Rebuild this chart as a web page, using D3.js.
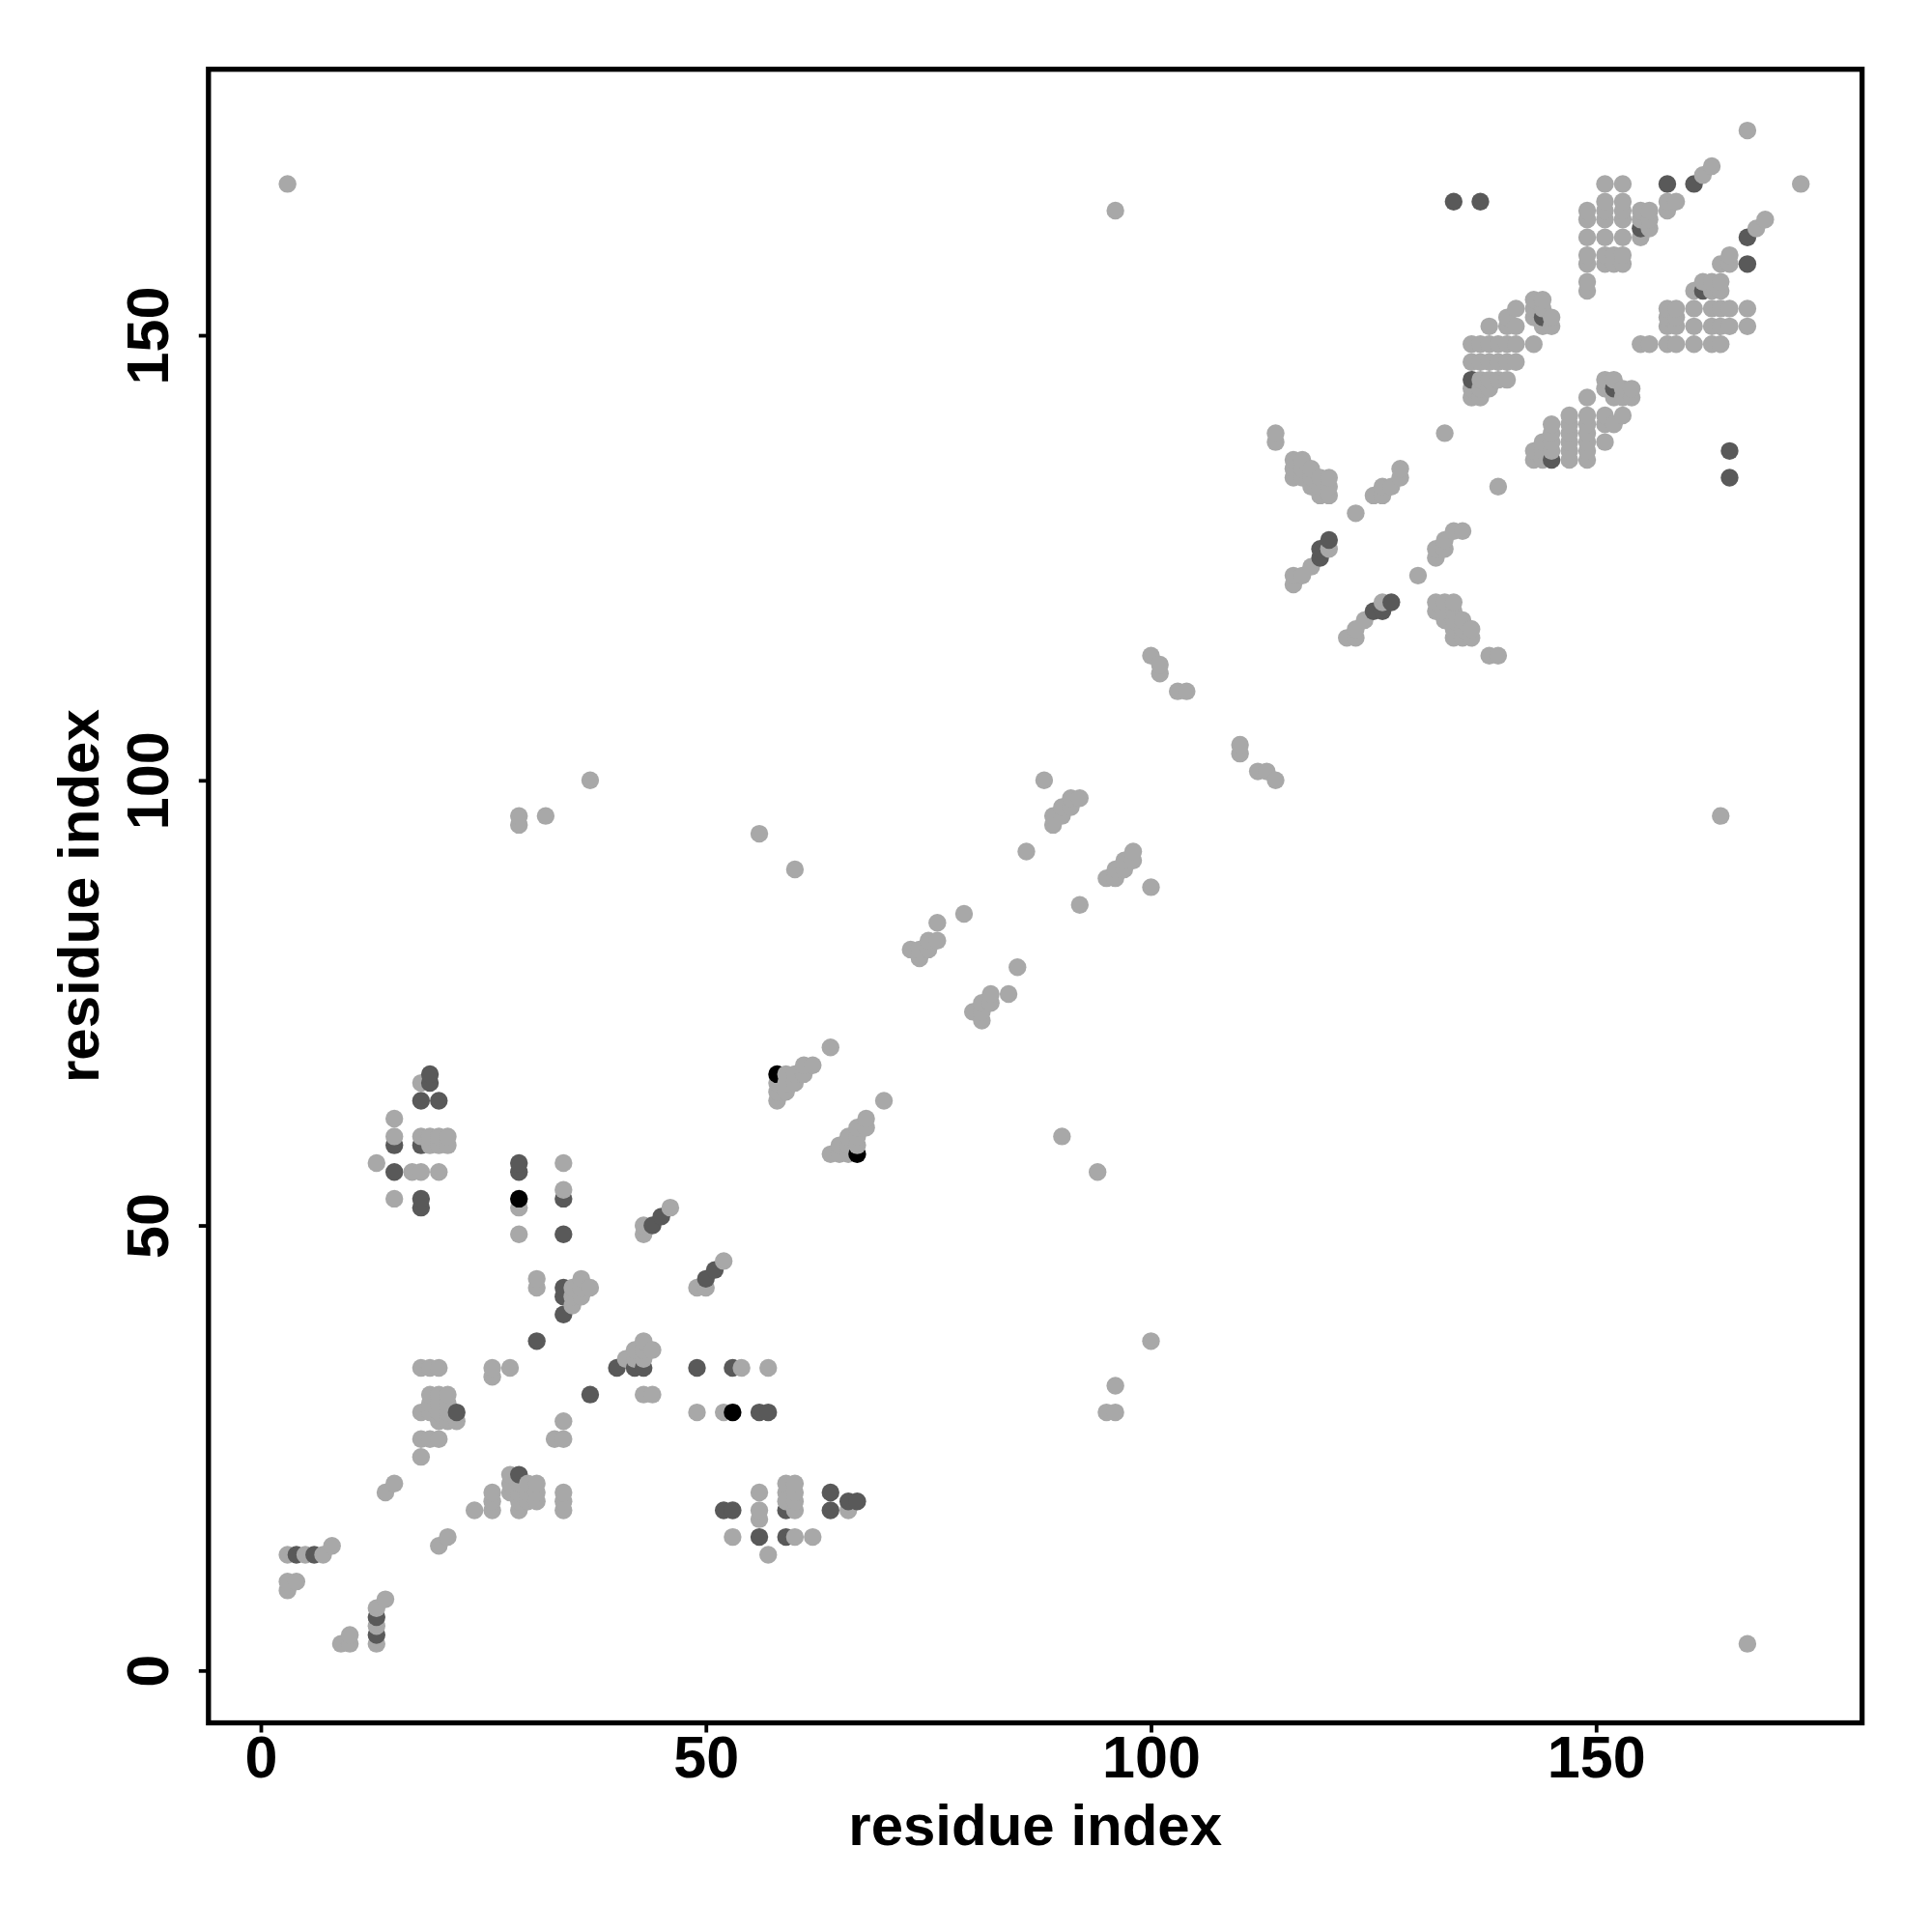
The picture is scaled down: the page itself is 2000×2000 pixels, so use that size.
<!DOCTYPE html>
<html>
<head>
<meta charset="utf-8">
<script src="https://cdn.jsdelivr.net/npm/d3@7"></script>
<style>
  html, body { margin: 0; padding: 0; background: #ffffff; }
  svg { display: block; }
  text { font-family: "Liberation Sans", Arial, Helvetica, sans-serif; font-weight: bold; }
</style>
</head>
<body>
<script>
// ---- data: contacts (i < j); each one is drawn at (i,j) and (j,i) ----
const lightPairs = [
  [3,9],[3,10],[4,10],[3,13],[5,13],[7,13],[8,14],
  [14,20],[15,21],
  [18,24],[18,26],[19,26],[20,26],[20,28],[21,28],[22,28],[18,29],[19,29],[20,29],[21,29],
  [19,30],[20,30],[21,30],[19,31],[20,31],[21,31],
  [18,34],[19,34],[20,34],[26,33],[26,34],[28,34],
  [18,66],[15,62],[15,60],[18,60],[19,60],[20,60],[21,60],[19,59],[20,59],[21,59],
  [13,57],[17,56],[18,56],[20,56],[15,53],
  [29,52],[29,49],[34,57],[34,54],
  [31,43],[31,44],[35,41],[35,42],[35,43],[36,42],[36,43],[36,44],[37,43],
  [43,49],[43,50],[46,52],
  [58,64],[58,65],[58,66],[59,65],[59,66],[59,67],[60,66],[60,67],[61,67],[61,68],[62,68],[64,70],
  [37,100],[29,95],[29,96],[32,96],[56,94],[60,90],[3,167],[96,164],
  [101,112],[103,110],[104,110],[101,113],[100,114],[88,100],
  [89,95],[89,96],[90,96],[90,97],[91,97],[91,98],[92,98],
  [86,92],[79,85],[76,84],[76,82],[75,82],[75,81],[74,81],[74,80],[73,81],
  [114,138],[114,139],
  [116,134],[116,135],[116,136],[117,134],[117,135],[117,136],[118,133],[118,134],[118,135],
  [119,132],[119,133],[119,134],[120,132],[120,133],[120,134],
  [123,130],[125,132],[126,132],[126,133],[127,133],[128,134],[128,135],
  [120,126],[118,124],[117,123],[116,123],[116,122],
  [133,139],
  [136,143],[137,143],[136,144],[137,144],[138,144],[137,145],[138,145],[139,145],[140,145],
  [136,147],[137,147],[138,147],[139,147],[140,147],[141,147],
  [136,149],[137,149],[138,149],[139,149],[140,149],[141,149],[143,149],
  [138,151],[140,151],[141,151],[140,152],[141,153],
  [143,152],[143,153],[143,154],[144,151],[144,153],[144,154],[145,151],[145,152],
  [149,155],[149,156],[149,158],[149,159],[149,161],[149,163],[149,164],
  [151,158],[151,159],[151,161],[151,163],[151,164],[151,165],[151,167],
  [152,158],[152,159],
  [153,158],[153,159],[153,161],[153,163],[153,164],[153,165],[153,167],
  [155,161],[155,163],[155,164],[156,162],[156,163],[156,164],
  [158,164],[158,165],[159,165],[162,168],[163,169],[167,173]
];
const darkPairs = [
  [4,13],[6,13],[22,29],
  [19,67],[19,66],[18,64],[20,64],[15,59],[18,59],[15,56],[18,53],[18,52],
  [29,56],[29,57],[34,53],[34,49],
  [34,40],[34,42],[34,43],[31,37],
  [44,50],[45,51],
  [119,125],[119,126],[120,127],
  [134,165],[137,165],
  [136,145],[144,152],[155,162],[158,167],[161,167]
];
const blackPairs = [[29,53],[58,67]];

const levelColors = { light: "#a8a8a8", dark: "#595959", black: "#000000" };
const xTicks = [0, 50, 100, 150];
const yTicks = [0, 50, 100, 150];
const xTitle = "residue index";
const yTitle = "residue index";
const dataRange = [1, 173];

(function () {
  // ---- build mirrored point table ----
  const points = [];
  function addPairs(pairs, level) {
    pairs.forEach(([i, j]) => {
      points.push({ x: i, y: j, level });
      points.push({ x: j, y: i, level });
    });
  }
  addPairs(lightPairs, "light");
  addPairs(darkPairs, "dark");
  addPairs(blackPairs, "black");
  points.sort((a, b) => (a.x - b.x) || (a.y - b.y));

  // ---- layout ----
  const W = 2000, H = 2000;
  const pad = 0.04 * (dataRange[1] - dataRange[0]);
  const dom = [dataRange[0] - pad, dataRange[1] + pad];
  const pL = 215.8, pR = 1927.6, pT = 71.7, pB = 1783.5;
  const fontStack = "'Liberation Sans', Arial, Helvetica, sans-serif";

  const x = d3.scaleLinear().domain(dom).range([pL, pR]);
  const y = d3.scaleLinear().domain(dom).range([pB, pT]);

  const svg = d3.select("body").append("svg")
    .attr("width", W).attr("height", H)
    .attr("viewBox", `0 0 ${W} ${H}`);

  svg.append("rect").attr("width", W).attr("height", H).attr("fill", "#ffffff");

  // points
  svg.append("g").selectAll("circle")
    .data(points)
    .join("circle")
    .attr("cx", d => x(d.x))
    .attr("cy", d => y(d.y))
    .attr("r", 9.2)
    .attr("fill", d => levelColors[d.level]);

  // frame
  svg.append("rect")
    .attr("x", pL).attr("y", pT)
    .attr("width", pR - pL).attr("height", pB - pT)
    .attr("fill", "none").attr("stroke", "#000").attr("stroke-width", 5.3);

  // x axis
  const gx = svg.append("g")
    .attr("transform", `translate(0,${pB})`)
    .call(d3.axisBottom(x).tickValues(xTicks).tickSize(10).tickSizeOuter(0).tickPadding(3.5));
  gx.select(".domain").remove();
  gx.selectAll(".tick line").attr("stroke", "#000").attr("stroke-width", 3.8);
  gx.selectAll(".tick text")
    .attr("fill", "#000")
    .style("font-size", "61px")
    .style("font-weight", "bold")
    .style("font-family", fontStack);

  // y axis
  const gy = svg.append("g")
    .attr("transform", `translate(${pL},0)`)
    .call(d3.axisLeft(y).tickValues(yTicks).tickSize(10).tickSizeOuter(0));
  gy.select(".domain").remove();
  gy.selectAll(".tick line").attr("stroke", "#000").attr("stroke-width", 3.8);
  gy.selectAll(".tick text")
    .attr("fill", "#000")
    .attr("transform", "rotate(-90)")
    .attr("x", 0)
    .attr("y", -(pL - 174))
    .attr("dy", null)
    .attr("text-anchor", "middle")
    .style("font-size", "61px")
    .style("font-weight", "bold")
    .style("font-family", fontStack);

  // titles
  svg.append("text")
    .attr("x", (pL + pR) / 2).attr("y", 1910)
    .attr("text-anchor", "middle")
    .style("font-size", "60px")
    .attr("fill", "#000")
    .text(xTitle);

  svg.append("text")
    .attr("transform", `translate(102,${(pT + pB) / 2}) rotate(-90)`)
    .attr("text-anchor", "middle")
    .style("font-size", "60px")
    .attr("fill", "#000")
    .text(yTitle);
})();
</script>
</body>
</html>
